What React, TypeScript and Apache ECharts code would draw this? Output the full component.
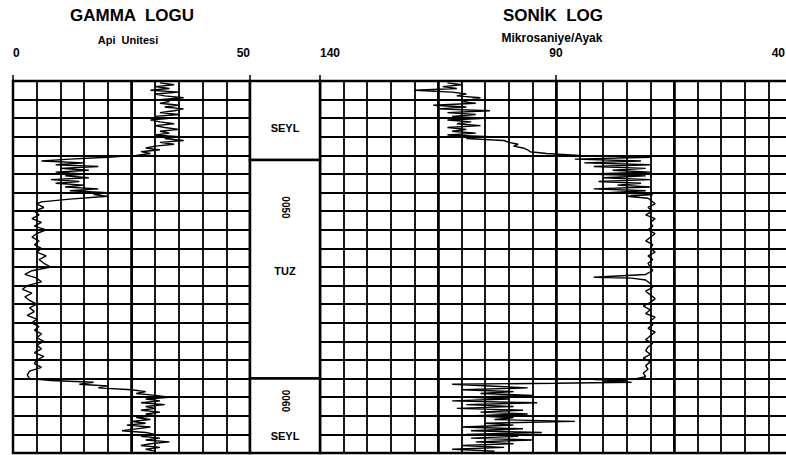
import React, { useEffect, useRef } from 'react';
import * as echarts from 'echarts';

// ---- axis tick labels ----
const gammaTicks = [0, 50];
const sonicTicks = [140, 90, 40];
const gammaHeavy = [25];
const sonicHeavy = [115, 90, 65];

// ---- gamma log: [API, depth (grid divisions)] ----
const gammaUpperShale: number[][] = [
  [31, 0.1], [34, 0.2], [30, 0.3], [33, 0.4], [29, 0.5], [35, 0.6], [30, 0.7], [32, 0.8], [36, 0.9], [31, 1.0],
  [33, 1.1], [31, 1.2], [35, 1.3], [32, 1.4], [36, 1.5], [34, 1.6], [31, 1.7], [35, 1.8], [30, 1.9], [33, 2.0],
  [29, 2.1], [31, 2.2], [34, 2.3], [30, 2.4], [32, 2.5], [35, 2.6], [31, 2.7], [33, 2.8], [30, 2.9], [35, 3.0],
  [32, 3.1], [36, 3.2], [31, 3.3], [34, 3.4], [30, 3.5], [28, 3.6], [31, 3.7], [27, 3.8], [29, 3.9], [26, 4.0],
  [20, 4.1], [12, 4.2], [6, 4.3],
];
const gammaSaltTop: number[][] = [
  [15, 4.4], [9, 4.5], [18, 4.6], [10, 4.7], [16, 4.8], [9, 4.9], [15, 5.0], [11, 5.1], [16, 5.2], [8, 5.3],
  [14, 5.4], [9, 5.5], [15, 5.6], [11, 5.7], [18, 5.8], [12, 5.9], [20, 6.0], [17, 6.1], [20, 6.2], [12, 6.35],
  [6, 6.5],
];
const gammaSalt: number[][] = [
  [5, 6.6], [6.5, 6.8], [4.5, 7.0], [5.5, 7.2], [4, 7.4], [6, 7.6], [4.5, 7.8], [7, 8.0], [5, 8.2], [4, 8.4],
  [5.5, 8.6], [4.5, 8.8], [6, 9.0], [5, 9.2], [7, 9.4], [5.5, 9.6], [6.5, 9.8], [8, 10.0], [4, 10.2], [2.5, 10.4],
  [5, 10.6], [6, 10.8], [3, 11.0], [2, 11.2], [4, 11.4], [2.5, 11.6], [3.5, 11.8], [5, 12.0], [3.5, 12.2], [4.5, 12.4],
  [3, 12.6], [5, 12.8], [4, 13.0], [5.5, 13.2], [4.5, 13.4], [6, 13.6], [5, 13.8], [6.5, 14.0], [5, 14.2], [6, 14.4],
  [4.5, 14.6], [6.5, 14.8], [5, 15.0], [4.5, 15.2], [6, 15.4], [3.5, 15.6], [3, 15.8], [3.5, 16.0],
];
const gammaLowerShale: number[][] = [
  [8, 16.1], [17, 16.2], [14, 16.3], [20, 16.4], [18, 16.5], [25, 16.6], [28, 16.7], [26, 16.8], [30, 16.9],
  [33, 17.0], [28, 17.1], [31, 17.2], [27, 17.3], [32, 17.4], [28, 17.5], [30, 17.6], [27, 17.7], [31, 17.8], [28, 17.9],
  [30, 18.0], [26, 18.1], [29, 18.2], [25, 18.3], [28, 18.4], [24, 18.5], [29, 18.6], [26, 18.7], [23, 18.8], [28, 18.9],
  [30, 19.0], [27, 19.1], [31, 19.2], [28, 19.3], [33, 19.4], [29, 19.5], [27, 19.6], [31, 19.7], [28, 19.8], [30, 19.9],
];

// ---- sonic log: [microsec/ft, depth (grid divisions)] ----
const sonicUpperShale: number[][] = [
  [113, 0.1], [110, 0.2], [114, 0.3], [111, 0.4], [120, 0.5], [112, 0.6], [109, 0.7], [111, 0.8], [106, 0.9], [108, 1.0],
  [110, 1.1], [107, 1.2], [116, 1.3], [109, 1.4], [115, 1.5], [104, 1.6], [113, 1.7], [107, 1.8], [112, 1.9], [105, 2.0],
  [113, 2.1], [108, 2.2], [111, 2.3], [106, 2.4], [113, 2.5], [109, 2.6], [112, 2.7], [107, 2.8], [113, 2.9], [104, 3.0],
  [109, 3.1], [101, 3.2], [100, 3.3], [98, 3.4], [99, 3.5], [97, 3.6], [96, 3.7], [95.5, 3.8], [92, 3.9], [85, 4.0],
];
const sonicSaltTop: number[][] = [
  [70, 4.1], [86, 4.2], [72, 4.3], [84, 4.4], [70, 4.5], [82, 4.6], [71, 4.7], [78, 4.8], [70, 4.9], [83, 5.0],
  [71, 5.1], [80, 5.2], [70, 5.3], [81, 5.4], [72, 5.5], [77, 5.6], [70, 5.7], [82, 5.8], [71, 5.9], [79, 6.0],
  [69.5, 6.1], [75, 6.2], [70.5, 6.3],
];
const sonicSalt: number[][] = [
  [70, 6.4], [69, 6.6], [70.5, 6.8], [69.5, 7.0], [71, 7.2], [69, 7.4], [70, 7.6], [69.5, 7.8], [70.5, 8.0], [69, 8.2],
  [70, 8.4], [71, 8.6], [69.5, 8.8], [70, 9.0], [69, 9.2], [70.5, 9.4], [69.5, 9.6], [70.5, 9.8], [70, 10.0], [69.5, 10.2],
  [71, 10.4], [82, 10.55], [74, 10.6], [71, 10.7], [70, 10.9], [69.5, 11.1], [71, 11.3], [70, 11.5], [69, 11.7], [70, 11.9],
  [71.5, 12.1], [70, 12.3], [71, 12.5], [69, 12.7], [70, 12.9], [69.5, 13.1], [70.5, 13.3], [69, 13.5], [70, 13.7], [71, 13.9],
  [69.5, 14.1], [70.5, 14.3], [71, 14.5], [70, 14.7], [71.5, 14.9], [70, 15.1], [71, 15.3], [70.5, 15.5], [71.5, 15.7], [71, 15.9],
  [73, 16.0], [82, 16.05], [75, 16.1], [80, 16.15], [74, 16.2], [90, 16.25],
];
const sonicLowerShale: number[][] = [
  [112, 16.3], [104, 16.4], [96, 16.5], [110, 16.6], [99, 16.7], [106, 16.8], [95, 16.9], [108, 17.0], [100, 17.1], [112, 17.2],
  [94, 17.3], [109, 17.4], [99, 17.5], [111, 17.6], [97, 17.7], [106, 17.8], [96, 17.9], [107, 18.0], [99, 18.1], [103, 18.2],
  [86, 18.3], [105, 18.4], [99, 18.5], [110, 18.6], [97, 18.7], [108, 18.8], [93, 18.9], [109, 19.0], [98, 19.1], [108, 19.2],
  [95, 19.3], [107, 19.4], [99, 19.5], [110, 19.6], [101, 19.7], [112, 19.8], [103, 19.9], [106, 20.0],
];

// ---- lithology column ----
const lithoTops = [0, 4.25, 16];
const lithoBottoms = [4.25, 16, 20];
const lithoNames = ['SEYL', 'TUZ', 'SEYL'];
const lithoLabelDepths = [2.5, 10.2, 19.1];
const depthMarks = ['0050', '0060'];
const depthMarkDepths = [6.8, 17.2];

const FONT = '"Liberation Sans", Arial, sans-serif';

export default function App() {
  const ref = useRef<HTMLDivElement>(null);
  useEffect(() => {
    document.body.style.margin = '0';
    const chart = echarts.init(ref.current!, null, { renderer: 'svg' });
    const gridStyle = { color: '#000', width: 1.8 };
    const labelStyle = { color: '#000', fontFamily: FONT, fontWeight: 'bold' as const, fontSize: 12, margin: 22 };
    const heavy = (vals: number[]) => ({
      symbol: 'none', silent: true, label: { show: false },
      lineStyle: { color: '#000', width: 2.6, type: 'solid' as const },
      data: vals.map((v) => ({ xAxis: v })),
    });
    const depthAxis = (gridIndex: number) => ({
      gridIndex, type: 'value', min: 0, max: 20, interval: 1, inverse: true,
      axisLine: { show: false }, axisTick: { show: false }, axisLabel: { show: false },
      splitLine: { show: true, lineStyle: gridStyle },
    });
    const lastSonic = sonicTicks[sonicTicks.length - 1];

    const lithoText = [
      ...lithoNames.map((n, i) => ({ value: [0.5, lithoLabelDepths[i]], text: n, rot: 0, size: 11 })),
      ...depthMarks.map((n, i) => ({ value: [0.5, depthMarkDepths[i]], text: n, rot: -Math.PI / 2, size: 10 })),
    ];

    chart.setOption({
      animation: false,
      backgroundColor: '#fff',
      grid: [
        { left: 13, top: 81, width: 237, height: 372, outerBoundsMode: 'none', containLabel: false, show: true, borderColor: '#000', borderWidth: 2.5, backgroundColor: 'transparent' },
        { left: 250, top: 81, width: 70, height: 372, outerBoundsMode: 'none', containLabel: false, show: false },
        { left: 320, top: 81, width: 472, height: 372, outerBoundsMode: 'none', containLabel: false, show: true, borderColor: '#000', borderWidth: 2.5, backgroundColor: 'transparent' },
      ],
      xAxis: [
        {
          gridIndex: 0, type: 'value', min: 0, max: 50, interval: 5, position: 'top',
          axisLine: { show: false }, axisTick: { show: false }, axisLabel: { show: false },
          splitLine: { show: true, lineStyle: gridStyle },
        },
        { gridIndex: 1, type: 'value', min: 0, max: 1, show: false },
        {
          gridIndex: 2, type: 'value', min: 40, max: 140, interval: 5, inverse: true, position: 'top',
          axisLine: { show: false }, axisTick: { show: false }, axisLabel: { show: false },
          splitLine: { show: true, lineStyle: gridStyle },
        },
        {
          gridIndex: 0, type: 'value', min: 0, max: 50, position: 'top',
          axisLine: { show: false }, splitLine: { show: false },
          axisTick: { show: true, customValues: gammaTicks, length: 6, lineStyle: { color: '#000', width: 1.5 } },
          axisLabel: { ...labelStyle, customValues: gammaTicks, alignMinLabel: 'left', alignMaxLabel: 'right' },
        },
        {
          gridIndex: 2, type: 'value', min: 40, max: 140, inverse: true, position: 'top',
          axisLine: { show: false }, splitLine: { show: false },
          axisTick: { show: true, customValues: sonicTicks, length: 6, lineStyle: { color: '#000', width: 1.5 } },
          axisLabel: {
            ...labelStyle, customValues: sonicTicks, alignMinLabel: 'left', alignMaxLabel: 'right',
            formatter: (v: number) => (v === lastSonic ? `{e|${v}}` : String(v)),
            rich: { e: { color: '#000', fontFamily: FONT, fontWeight: 'bold', fontSize: 12, padding: [0, 7, 0, 0] } },
          },
        },
      ],
      yAxis: [
        depthAxis(0),
        { gridIndex: 1, type: 'value', min: 0, max: 20, inverse: true, show: false },
        depthAxis(2),
      ],
      series: [
        {
          type: 'line', xAxisIndex: 0, yAxisIndex: 0, showSymbol: false, symbol: 'none',
          lineStyle: { color: '#000', width: 1.4 },
          data: [...gammaUpperShale, ...gammaSaltTop, ...gammaSalt, ...gammaLowerShale],
          markLine: heavy(gammaHeavy),
        },
        {
          type: 'line', xAxisIndex: 2, yAxisIndex: 2, showSymbol: false, symbol: 'none',
          lineStyle: { color: '#000', width: 1.4 },
          data: [...sonicUpperShale, ...sonicSaltTop, ...sonicSalt, ...sonicLowerShale],
          markLine: heavy(sonicHeavy),
        },
        {
          type: 'custom', xAxisIndex: 1, yAxisIndex: 1,
          data: lithoTops.map((t, i) => [t, lithoBottoms[i]]),
          renderItem: (_p: any, api: any) => {
            const a = api.coord([0, api.value(0)]);
            const b = api.coord([1, api.value(1)]);
            return {
              type: 'rect',
              shape: { x: a[0], y: a[1], width: b[0] - a[0], height: b[1] - a[1] },
              style: { fill: '#fff', stroke: '#000', lineWidth: 2.5 },
            };
          },
        },
        {
          type: 'custom', xAxisIndex: 1, yAxisIndex: 1, z: 5,
          data: lithoText.map((d) => d.value),
          renderItem: (p: any, api: any) => {
            const d = lithoText[p.dataIndex];
            const c = api.coord([api.value(0), api.value(1)]);
            return {
              type: 'text', x: c[0], y: c[1], rotation: d.rot,
              style: { text: d.text, align: 'center', verticalAlign: 'middle', fill: '#000', font: `bold ${d.size}px ${FONT}` },
            };
          },
        },
      ],
      graphic: [
        { type: 'text', x: 132, y: 15, style: { text: 'GAMMA  LOGU', align: 'center', verticalAlign: 'middle', fill: '#000', font: `bold 17px ${FONT}` } },
        { type: 'text', x: 128, y: 40, style: { text: 'Api  Unitesi', align: 'center', verticalAlign: 'middle', fill: '#000', font: `bold 11px ${FONT}` } },
        { type: 'text', x: 553, y: 15, style: { text: 'SONİK  LOG', align: 'center', verticalAlign: 'middle', fill: '#000', font: `bold 17px ${FONT}` } },
        { type: 'text', x: 552, y: 38, style: { text: 'Mikrosaniye/Ayak', align: 'center', verticalAlign: 'middle', fill: '#000', font: `bold 12px ${FONT}` } },
      ],
    });
    return () => chart.dispose();
  }, []);
  return <div ref={ref} style={{ width: 786, height: 455 }} />;
}
